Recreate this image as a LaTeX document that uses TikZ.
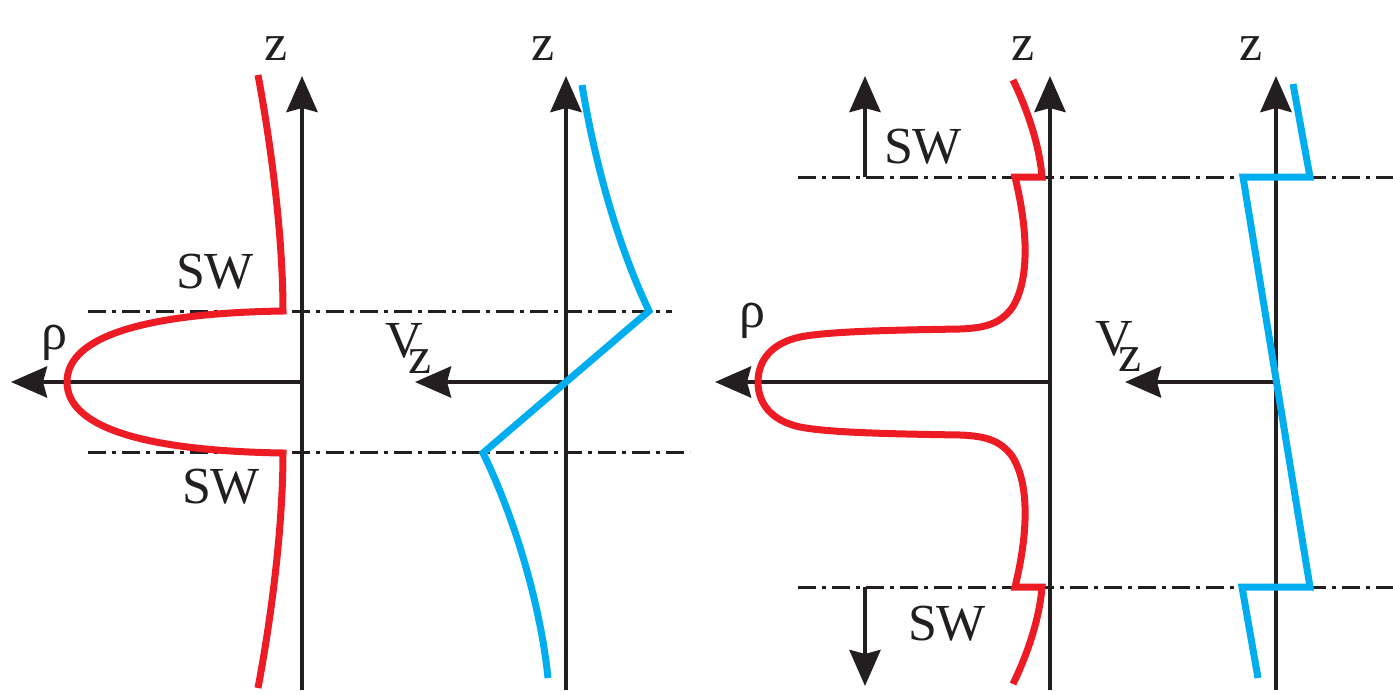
\documentclass[tikz,border=0pt]{standalone}
\usepackage{fontspec}
\setmainfont{Liberation Serif}
\usetikzlibrary{arrows.meta}
\definecolor{ink}{HTML}{231F20}
\definecolor{rcurve}{HTML}{ED1C24}
\definecolor{bcurve}{HTML}{00AEEF}
\tikzset{
  axis/.style={draw=ink, line width=4.5pt, -{Stealth[length=36pt,width=31pt,inset=4pt]}},
  plainaxis/.style={draw=ink, line width=4.5pt},
  dashdot/.style={draw=ink, line width=3pt, dash pattern=on 18pt off 6pt on 4pt off 6pt},
  redc/.style={draw=rcurve, line width=7pt},
  bluec/.style={draw=bcurve, line width=7pt},
  lbl/.style={text=ink, inner sep=0pt, anchor=base, font=\fontsize{52}{52}\selectfont},
  vzlbl/.style={text=ink, inner sep=0pt, anchor=base west, font=\fontsize{52}{52}\selectfont},
}
\newcommand{\vzlabel}{V\kern-14pt\raisebox{-16pt}{z}}
\begin{document}
\begin{tikzpicture}[x=1pt,y=-1pt]
\useasboundingbox (0,0) rectangle (1393,694);
% ---------- panel 1 ----------
\coordinate (o1) at (302,382);
\coordinate (t1) at (302,76);
\coordinate (b1) at (302,690);
\coordinate (r1) at (11,382);
\draw[dashdot] (88,311) -- (672,311);
\draw[dashdot] (88,452) -- (690,452);
\draw[plainaxis] (b1) -- (o1);
\draw[axis] (o1) -- (t1);
\draw[axis] (o1) -- (r1);
\draw[redc] (258,75) .. controls (272,150) and (283,240) .. (283,311)
  .. controls (150,313) and (67,335) .. (67,382)
  .. controls (67,429) and (150,451) .. (283,453)
  .. controls (283,524) and (272,614) .. (258,688);
\node[lbl] (z1) at (276,60) {z};
\node[lbl] (rho1) at (54,349) {ρ};
\node[lbl] (sw1) at (215,288) {SW};
\node[lbl] (sw2) at (221,503) {SW};
% ---------- panel 2 ----------
\coordinate (o2) at (566,382);
\coordinate (t2) at (566,76);
\coordinate (b2) at (566,690);
\coordinate (r2) at (415,382);
\draw[plainaxis] (b2) -- (o2);
\draw[axis] (o2) -- (t2);
\draw[axis] (o2) -- (r2);
\draw[bluec] (582,85) .. controls (596,170) and (620,250) .. (649,311)
  -- (483,453)
  .. controls (512,512) and (540,600) .. (548,678);
\node[lbl] (z2) at (543,60) {z};
\node[vzlbl] (vz2) at (385,357) {\vzlabel};
% ---------- panel 3 ----------
\coordinate (o3) at (1050,382);
\coordinate (t3) at (1050,76);
\coordinate (b3) at (1050,690);
\coordinate (r3) at (715,382);
\draw[dashdot] (798,177) -- (1393,177);
\draw[dashdot] (798,587) -- (1393,587);
\draw[plainaxis] (b3) -- (o3);
\draw[axis] (o3) -- (t3);
\draw[axis] (o3) -- (r3);
\coordinate (swu0) at (865,177);
\coordinate (swu1) at (865,76);
\coordinate (swd0) at (865,587);
\coordinate (swd1) at (865,686);
\draw[axis] (swu0) -- (swu1);
\draw[axis] (swd0) -- (swd1);
\draw[redc] (1013,80) .. controls (1030,115) and (1040,150) .. (1042,177)
  -- (1015,177)
  .. controls (1028,230) and (1030,280) .. (1012,308)
  .. controls (1000,324) and (985,328) .. (960,329)
  .. controls (900,330) and (830,331) .. (800,337)
  .. controls (772,343) and (758,360) .. (758,382)
  .. controls (758,404) and (772,421) .. (800,427)
  .. controls (830,433) and (900,434) .. (960,435)
  .. controls (985,436) and (1000,440) .. (1012,456)
  .. controls (1030,484) and (1028,534) .. (1015,587)
  -- (1042,587)
  .. controls (1040,614) and (1030,649) .. (1013,684);
\node[lbl] (z3) at (1023,60) {z};
\node[lbl] (rho3) at (752,327) {ρ};
\node[lbl] (sw3) at (923,163) {SW};
\node[lbl] (sw4) at (947,640) {SW};
% ---------- panel 4 ----------
\coordinate (o4) at (1276,382);
\coordinate (t4) at (1276,76);
\coordinate (b4) at (1276,690);
\coordinate (r4) at (1125,382);
\draw[plainaxis] (b4) -- (o4);
\draw[axis] (o4) -- (t4);
\draw[axis] (o4) -- (r4);
\draw[bluec] (1293,84) -- (1310,177) -- (1243,177) -- (1310,587) -- (1242,587) -- (1258,678);
\node[lbl] (z4) at (1251,60) {z};
\node[vzlbl] (vz4) at (1095,355) {\vzlabel};
\end{tikzpicture}
\end{document}
